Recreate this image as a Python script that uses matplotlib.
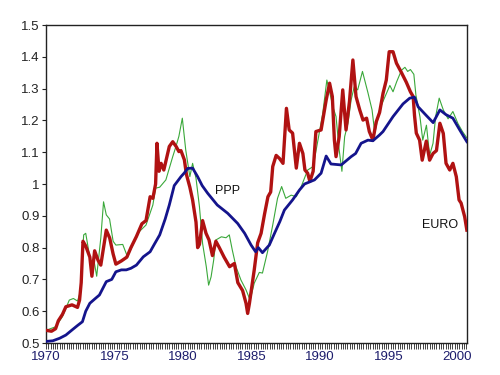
import matplotlib
matplotlib.use("Agg")
import matplotlib.pyplot as plt
from matplotlib.ticker import FixedLocator, MultipleLocator, FuncFormatter

plt.rcParams['font.family'] = ['Liberation Sans', 'DejaVu Sans']

# EURO (red)
euro_t = [1970.0, 1970.4, 1970.7, 1970.9, 1971.2, 1971.45, 1971.9, 1972.3, 1972.45, 1972.57,
          1972.7, 1972.9, 1973.2, 1973.35, 1973.55, 1973.8, 1974.0, 1974.4, 1974.65, 1974.9,
          1975.1, 1975.5, 1975.9, 1976.2, 1976.6, 1977.0, 1977.3, 1977.6, 1977.8, 1978.0,
          1978.1, 1978.25, 1978.4, 1978.6, 1979.0, 1979.25, 1979.5, 1979.7, 1979.85, 1980.1,
          1980.25, 1980.5, 1980.7, 1980.95, 1981.07, 1981.2, 1981.43, 1981.68, 1981.9, 1982.15,
          1982.4, 1982.65, 1983.0, 1983.4, 1983.75, 1984.0, 1984.35, 1984.6, 1984.72, 1984.85,
          1985.2, 1985.45, 1985.7, 1985.95, 1986.2, 1986.4, 1986.55, 1986.8, 1987.05, 1987.3,
          1987.55, 1987.75, 1988.0, 1988.27, 1988.5, 1988.75, 1988.9, 1989.1, 1989.26, 1989.5,
          1989.7, 1990.08, 1990.45, 1990.7, 1990.9, 1991.05, 1991.17, 1991.4, 1991.66, 1991.9,
          1992.15, 1992.4, 1992.63, 1992.9, 1993.14, 1993.4, 1993.6, 1993.86, 1994.1, 1994.35,
          1994.6, 1994.84, 1995.05, 1995.33, 1995.58, 1995.95, 1996.3, 1996.6, 1996.8, 1996.9,
          1997.03, 1997.27, 1997.46, 1997.76, 1998.0, 1998.25, 1998.5, 1998.75, 1999.0, 1999.2,
          1999.47, 1999.7, 1999.95, 2000.15, 2000.3, 2000.56, 2000.72]
euro_v = [0.54, 0.537, 0.545, 0.57, 0.59, 0.614, 0.62, 0.612, 0.635, 0.69,
          0.82, 0.805, 0.77, 0.71, 0.79, 0.76, 0.745, 0.855, 0.83, 0.78,
          0.748, 0.758, 0.77, 0.80, 0.835, 0.875, 0.885, 0.96, 0.955, 1.0,
          1.128, 1.04, 1.065, 1.044, 1.118, 1.133, 1.118, 1.102, 1.105, 1.076,
          1.03, 0.99, 0.95, 0.88, 0.80, 0.81, 0.885, 0.845, 0.824, 0.775,
          0.82, 0.80, 0.77, 0.74, 0.75, 0.69, 0.665, 0.625, 0.593, 0.625,
          0.73, 0.815, 0.845, 0.905, 0.96, 0.975, 1.055, 1.09, 1.08, 1.065,
          1.238, 1.17, 1.16, 1.05, 1.128, 1.096, 1.044, 1.034, 1.008, 1.04,
          1.165, 1.17, 1.264, 1.317, 1.275, 1.138, 1.086, 1.149, 1.296, 1.17,
          1.259, 1.39, 1.275, 1.233, 1.201, 1.207, 1.165, 1.138, 1.195, 1.225,
          1.285, 1.327, 1.416, 1.416, 1.38, 1.35, 1.32, 1.29, 1.275, 1.215,
          1.16, 1.138, 1.075, 1.135, 1.075, 1.096, 1.105, 1.191, 1.159, 1.065,
          1.044, 1.065, 1.023, 0.95, 0.94, 0.897, 0.855]

# Green (thin)
green_t = [1970.0, 1970.7, 1971.2, 1971.7, 1972.0, 1972.3, 1972.5, 1972.75, 1972.9, 1973.25,
           1973.5, 1973.7, 1974.0, 1974.2, 1974.4, 1974.64, 1974.9, 1975.1, 1975.6, 1975.95,
           1976.35, 1976.8, 1977.3, 1977.8, 1978.0, 1978.3, 1978.75, 1979.25, 1979.5, 1979.7,
           1979.95, 1980.2, 1980.5, 1980.7, 1980.95, 1981.2, 1981.43, 1981.7, 1981.87, 1982.05,
           1982.24, 1982.4, 1982.8, 1983.14, 1983.38, 1983.6, 1983.87, 1984.23, 1984.6, 1984.9,
           1985.2, 1985.57, 1985.8, 1986.17, 1986.55, 1986.9, 1987.2, 1987.5, 1987.9, 1988.27,
           1988.63, 1989.1, 1989.5, 1989.85, 1990.2, 1990.5, 1990.7, 1990.94, 1991.17, 1991.4,
           1991.6, 1991.8, 1992.04, 1992.27, 1992.5, 1992.75, 1993.1, 1993.5, 1993.8, 1994.0,
           1994.35, 1994.6, 1995.1, 1995.33, 1995.6, 1995.95, 1996.2, 1996.4, 1996.6, 1996.85,
           1997.0, 1997.3, 1997.5, 1997.77, 1998.0, 1998.25, 1998.44, 1998.7, 1999.0, 1999.35,
           1999.7, 2000.07, 2000.4, 2000.72]
green_v = [0.54, 0.551, 0.583, 0.635, 0.64, 0.632, 0.66, 0.84, 0.845, 0.756,
           0.76, 0.71, 0.83, 0.944, 0.903, 0.89, 0.82, 0.808, 0.81, 0.771,
           0.81, 0.85, 0.871, 0.934, 0.987, 0.99, 1.013, 1.086, 1.12, 1.15,
           1.207, 1.107, 1.023, 1.065, 1.018, 0.929, 0.813, 0.74, 0.682, 0.708,
           0.761, 0.824, 0.834, 0.831, 0.84, 0.792, 0.74, 0.698, 0.667, 0.635,
           0.688, 0.722, 0.72, 0.787, 0.871, 0.955, 0.992, 0.955, 0.965, 0.96,
           0.992, 1.044, 1.055, 1.138, 1.222, 1.327, 1.29, 1.243, 1.212, 1.107,
           1.04, 1.149, 1.191, 1.264, 1.306, 1.296, 1.354, 1.287, 1.233, 1.16,
           1.233, 1.26, 1.31, 1.29, 1.322, 1.358, 1.367, 1.354, 1.36, 1.345,
           1.28, 1.21, 1.138, 1.185, 1.09, 1.128, 1.212, 1.27, 1.233, 1.205,
           1.228, 1.19, 1.165, 1.145]

# PPP (blue)
ppp_t = [1970.0, 1970.5, 1971.0, 1971.45, 1971.9, 1972.3, 1972.66, 1972.9, 1973.2, 1973.6,
         1973.9, 1974.4, 1974.8, 1975.1, 1975.5, 1975.86, 1976.2, 1976.6, 1977.1, 1977.6,
         1977.9, 1978.3, 1978.7, 1979.0, 1979.36, 1979.85, 1980.1, 1980.34, 1980.7, 1981.07,
         1981.4, 1981.8, 1982.5, 1983.26, 1983.99, 1984.5, 1984.97, 1985.3, 1985.5, 1985.8,
         1986.3, 1986.68, 1987.07, 1987.4, 1988.0, 1988.5, 1988.87, 1989.6, 1990.08, 1990.45,
         1990.8, 1991.55, 1992.27, 1992.6, 1993.0, 1993.5, 1993.86, 1994.34, 1994.6, 1995.33,
         1996.06, 1996.55, 1996.9, 1997.16, 1997.77, 1998.26, 1998.75, 1999.2, 1999.7, 2000.2,
         2000.72]
ppp_v = [0.505, 0.507, 0.515, 0.525, 0.541, 0.555, 0.567, 0.60, 0.625, 0.64,
         0.651, 0.693, 0.70, 0.724, 0.73, 0.73, 0.735, 0.745, 0.771, 0.787,
         0.81, 0.84, 0.89, 0.934, 0.995, 1.023, 1.035, 1.049, 1.05, 1.023,
         0.995, 0.971, 0.934, 0.908, 0.876, 0.845, 0.808, 0.787, 0.80, 0.784,
         0.808, 0.845, 0.882, 0.918, 0.95, 0.981, 1.0, 1.013, 1.034, 1.088,
         1.063, 1.06, 1.086, 1.096, 1.128, 1.138, 1.136, 1.154, 1.165, 1.212,
         1.252, 1.27, 1.273, 1.243, 1.215, 1.193, 1.233, 1.218, 1.207, 1.17,
         1.133]

y_ticks = [0.5, 0.6, 0.7, 0.8, 0.9, 1.0, 1.1, 1.2, 1.3, 1.4, 1.5]
x_ticks = [1970, 1975, 1980, 1985, 1990, 1995, 2000]

fig = plt.figure(figsize=(5, 3.75), dpi=100)
ax = fig.add_axes([0.092, 0.0853, 0.842, 0.848])

ax.plot(green_t, green_v, color='#3aa83a', lw=0.8, zorder=2)
ax.plot(euro_t, euro_v, color='#b01212', lw=2.4, zorder=3)
ax.plot(ppp_t, ppp_v, color='#14148c', lw=2.0, zorder=4)

ax.set_xlim(1970, 2000.73)
ax.set_ylim(0.5, 1.5)

ax.yaxis.set_major_locator(FixedLocator(y_ticks))
ax.yaxis.set_major_formatter(FuncFormatter(lambda v, p: ('%g' % round(v, 1))))
ax.xaxis.set_major_locator(FixedLocator(x_ticks))
ax.xaxis.set_minor_locator(MultipleLocator(1/6))

ax.tick_params(axis='y', direction='out', length=3, width=0.8, labelsize=9.5,
               colors='#222222', pad=1.5, right=False)
ax.tick_params(axis='x', which='both', direction='out', length=4, width=0.6,
               labelsize=9.5, pad=2.0, top=False)
ax.tick_params(axis='x', labelcolor='#1c1c6c', color='#222222')
ax.tick_params(axis='x', which='minor', color='#222222')

for s in ax.spines.values():
    s.set_color('#222222')
    s.set_linewidth(1.0)

ax.text(1983.25, 0.978, 'PPP', fontsize=9, ha='center', va='center', color='#111111')
ax.text(1998.75, 0.871, 'EURO', fontsize=9, ha='center', va='center', color='#111111')

fig.savefig('out.png', dpi=100, facecolor='white')
